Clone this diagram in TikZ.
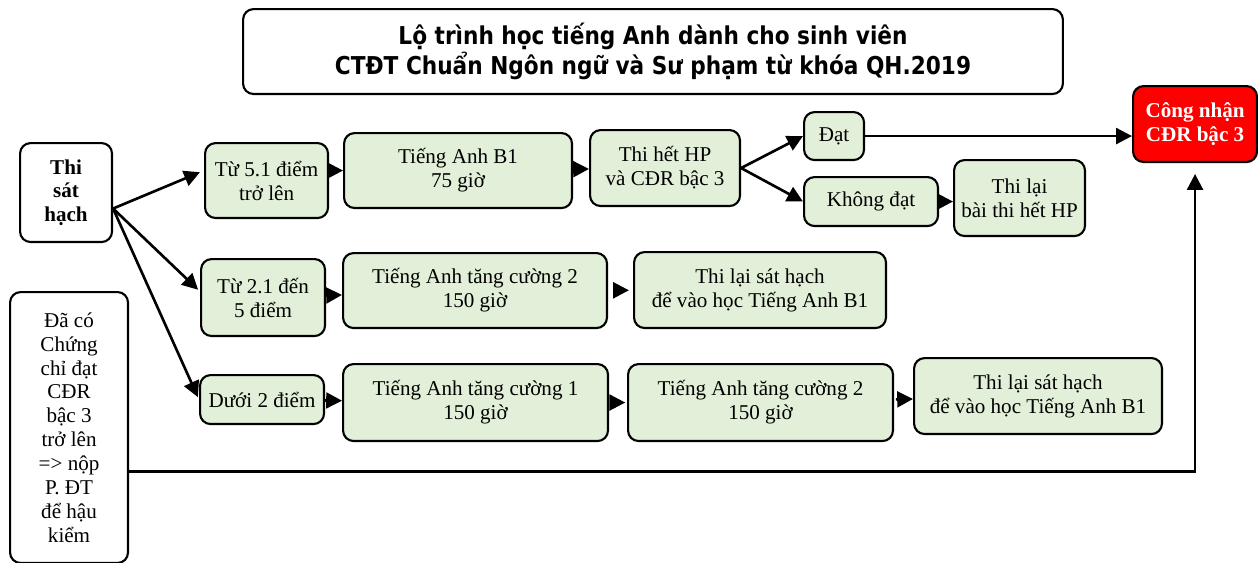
\documentclass[tikz,border=0pt]{standalone}
\usepackage{fontspec}
\setmainfont{Liberation Serif}
\newfontfamily\titlefont[FakeStretch=0.88]{DejaVu Sans}
\usepackage{tikz}
\usetikzlibrary{arrows.meta, calc}
\definecolor{route-green}{HTML}{E2EFD9}
\definecolor{route-red}{HTML}{FF0000}

\begin{document}
\begin{tikzpicture}[x=0.02cm, y=-0.02cm,
    box/.style={draw, line width=1.2pt, rounded corners=6pt, fill=route-green, align=center,
                anchor=north west, inner sep=0pt, font=\fontsize{12}{13.6}\selectfont},
    plainbox/.style={box, fill=white},
    tip/.style={-{Triangle[length=9pt,width=9pt]}, line width=1.5pt}]
    \useasboundingbox[fill=white] (0,0) rectangle (1258,562);

    % Title
    \node[plainbox, minimum width=16.4cm, minimum height=1.7cm,
          font=\titlefont\bfseries\fontsize{14}{16.8}\selectfont] (title) at (242,8)
        {Lộ trình học tiếng Anh dành cho sinh viên\\CTĐT Chuẩn Ngôn ngữ và Sư phạm từ khóa QH.2019};

    % Left column
    \node[plainbox, minimum width=1.84cm, minimum height=1.98cm, font=\fontsize{12}{13.4}\selectfont\bfseries] (thi) at (19,142)
        {Thi\\sát\\hạch};
    \node[plainbox, minimum width=2.36cm, minimum height=5.42cm] (daco) at (9,291)
        {Đã có\\Chứng\\chỉ đạt\\CĐR\\bậc 3\\trở lên\\=> nộp\\P. ĐT\\để hậu\\kiểm};

    % Row 1
    \node[box, minimum width=2.46cm, minimum height=1.5cm] (t51) at (204,142) {Từ 5.1 điểm\\trở lên};
    \node[box, minimum width=4.56cm, minimum height=1.5cm] (b1) at (343,132) {Tiếng Anh B1\\75 giờ};
    \node[box, minimum width=3cm, minimum height=1.52cm] (thp) at (589,129) {Thi hết HP\\và CĐR bậc 3};
    \node[box, minimum width=1.2cm, minimum height=0.96cm] (dat) at (803,111) {Đạt};
    \node[box, minimum width=2.68cm, minimum height=0.98cm] (kdat) at (803,176) {Không đạt};
    \node[box, minimum width=2.62cm, minimum height=1.52cm] (tlbt) at (953,159) {Thi lại\\bài thi hết HP};
    \node[box, fill=route-red, text=white, minimum width=2.48cm, minimum height=1.52cm,
          font=\fontsize{12}{13.6}\selectfont\bfseries] (cn) at (1132,85) {Công nhận\\CĐR bậc 3};

    % Row 2
    \node[box, minimum width=2.48cm, minimum height=1.54cm] (t21) at (200,258) {Từ 2.1 đến\\5 điểm};
    \node[box, minimum width=5.28cm, minimum height=1.5cm] (tc2a) at (342,252) {Tiếng Anh tăng cường 2\\150 giờ};
    \node[box, minimum width=5.04cm, minimum height=1.52cm] (tlsh1) at (633,251) {Thi lại sát hạch\\để vào học Tiếng Anh B1};

    % Row 3
    \node[box, minimum width=2.48cm, minimum height=0.98cm] (d2) at (199,374) {Dưới 2 điểm};
    \node[box, minimum width=5.3cm, minimum height=1.54cm] (tc1) at (342,363) {Tiếng Anh tăng cường 1\\150 giờ};
    \node[box, minimum width=5.3cm, minimum height=1.54cm] (tc2b) at (627,363) {Tiếng Anh tăng cường 2\\150 giờ};
    \node[box, minimum width=4.96cm, minimum height=1.52cm] (tlsh2) at (913,357) {Thi lại sát hạch\\để vào học Tiếng Anh B1};

    % Arrows from the placement test
    \coordinate (src) at ($(thi.east)+(0,16)$);
    \draw[tip, shorten >=2.5pt] (src) -- ($(t51.west)+(0,-10)$);
    \draw[tip, shorten >=1.5pt] (src) -- ($(t21.west)+(0,-6)$);
    \draw[tip, shorten >=1.5pt] (src) -- (d2.west);

    % Arrows along the rows
    \draw[tip] (t51.east |- b1) -- (b1.west);
    \draw[tip] (b1) -- (thp);
    \draw[tip] (thp.east) -- (dat.west);
    \draw[tip] (thp.east) -- (kdat.west);
    \draw[tip] (dat.east) -- (dat.east -| cn.west);
    \draw[tip] (kdat.east) -- (kdat.east -| tlbt.west);
    \draw[tip] (t21) -- (tc2a);
    \draw[tip, shorten <=3.4pt, shorten >=2.3pt] (tc2a) -- (tlsh1);
    \draw[tip] (d2) -- (tc1);
    \draw[tip, shorten <=1.7pt, shorten >=1pt] (tc1) -- (tc2b);
    \draw[tip, shorten <=1pt] (tc2b) -- (tlsh2);

    % Certificate holders go straight to recognition
    \draw[tip, shorten >=6.2pt] ($(daco.east)+(0,44)$) -| (cn.south);
\end{tikzpicture}
\end{document}
